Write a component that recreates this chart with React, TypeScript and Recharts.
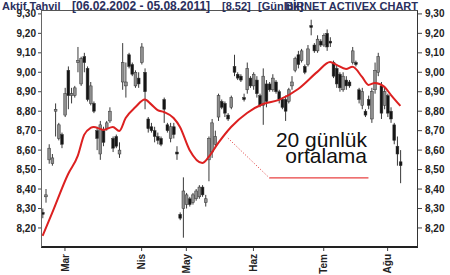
import React from 'react';
import { ComposedChart, Bar, Line, XAxis, YAxis, ReferenceLine } from 'recharts';

// OHLC per trading day
const highs = [8.30,8.40,8.63,8.58,8.84,8.74,8.69,8.92,9.03,8.92,8.93,9.13,9.08,9.10,9.03,8.95,8.85,8.72,8.75,8.72,8.75,8.82,8.67,8.68,8.64,9.15,9.05,9.10,9.05,9.01,9.00,9.15,9.02,8.77,8.74,8.72,8.69,8.67,8.87,8.74,8.74,8.74,8.62,8.28,8.46,8.38,8.36,8.38,8.40,8.42,8.42,8.37,8.67,8.76,8.70,8.89,8.86,8.85,8.79,8.88,9.09,9.00,8.99,8.89,9.05,8.98,9.00,8.98,8.89,9.02,8.96,8.95,8.99,8.96,8.91,8.87,8.88,8.92,8.98,9.08,9.11,9.12,9.04,9.14,9.27,9.15,9.19,9.17,9.20,9.22,9.18,9.06,9.04,9.00,9.00,8.98,8.96,9.13,9.06,8.92,8.92,8.81,8.88,8.92,9.05,9.10,8.95,8.92,8.89,8.82,8.74,8.67,8.60];
const lows = [8.25,8.33,8.53,8.52,8.67,8.65,8.61,8.77,8.81,8.84,8.87,9.00,8.93,9.00,8.85,8.83,8.79,8.60,8.55,8.62,8.70,8.74,8.59,8.61,8.56,8.91,8.87,9.02,8.98,8.92,8.92,9.04,8.81,8.69,8.69,8.64,8.63,8.62,8.74,8.69,8.64,8.66,8.55,8.24,8.15,8.30,8.31,8.32,8.34,8.35,8.36,8.31,8.44,8.56,8.61,8.75,8.81,8.77,8.75,8.81,8.98,8.96,8.95,8.85,8.89,8.92,8.91,8.87,8.82,8.73,8.82,8.90,8.90,8.89,8.84,8.81,8.75,8.84,8.91,9.00,9.02,9.05,8.99,9.03,9.19,9.10,9.10,9.13,9.13,9.11,9.13,8.97,8.92,8.90,8.90,8.91,8.92,9.04,9.03,8.84,8.81,8.77,8.81,8.74,8.89,8.98,8.76,8.81,8.77,8.74,8.63,8.52,8.43];
const opens = [8.28,8.36,8.55,8.53,8.80,8.66,8.68,8.78,9.01,8.88,8.88,9.05,8.94,9.08,9.02,8.84,8.84,8.70,8.58,8.70,8.71,8.75,8.66,8.67,8.58,8.95,8.93,9.09,9.04,8.93,8.97,9.05,9.00,8.76,8.72,8.70,8.67,8.66,8.86,8.73,8.66,8.72,8.59,8.27,8.30,8.32,8.35,8.33,8.35,8.36,8.41,8.33,8.55,8.59,8.63,8.77,8.85,8.84,8.78,8.82,9.03,8.99,8.98,8.87,8.91,8.97,8.93,8.96,8.88,8.83,8.94,8.94,8.91,8.95,8.90,8.86,8.86,8.85,8.93,9.01,9.09,9.06,9.03,9.04,9.24,9.14,9.11,9.16,9.14,9.20,9.16,9.05,9.02,8.99,8.91,8.96,8.95,9.05,9.05,8.91,8.83,8.80,8.86,8.76,8.91,9.00,8.93,8.83,8.88,8.80,8.73,8.62,8.54];
const closes = [8.27,8.37,8.61,8.56,8.81,8.73,8.63,8.89,8.88,8.89,8.92,9.06,9.07,9.05,8.86,8.93,8.80,8.66,8.73,8.64,8.74,8.80,8.61,8.62,8.60,9.05,8.95,9.03,8.99,9.00,8.94,9.13,8.90,8.71,8.70,8.67,8.65,8.63,8.81,8.70,8.72,8.68,8.58,8.25,8.39,8.37,8.32,8.37,8.39,8.41,8.37,8.35,8.66,8.74,8.67,8.88,8.82,8.79,8.76,8.87,9.00,8.97,8.96,8.86,9.02,8.93,8.99,8.89,8.83,8.98,8.85,8.91,8.97,8.90,8.86,8.82,8.80,8.91,8.95,9.07,9.04,9.11,9.00,9.12,9.23,9.11,9.17,9.14,9.19,9.13,9.15,8.98,8.94,8.92,8.98,8.93,8.93,9.11,9.04,8.86,8.90,8.78,8.83,8.90,9.01,9.08,8.79,8.90,8.79,8.76,8.65,8.58,8.52];

// 20-day moving average, read at selected days
const maDays = [0,3,8,11,13,15,16,18,19,22,24,26,29,32,34,36,38,41,43,46,50,52,55,59,64,69,74,80,86,90,92,95,97,100,102,104,107,109,112];
const maValues = [8.159,8.277,8.477,8.570,8.678,8.714,8.719,8.709,8.704,8.719,8.698,8.765,8.820,8.860,8.835,8.806,8.796,8.765,8.719,8.601,8.534,8.565,8.637,8.719,8.791,8.837,8.858,8.914,9.002,9.053,9.038,9.017,9.028,8.976,8.935,8.945,8.925,8.884,8.827];

const monthTicks = [7, 31, 45, 66, 88, 108];
const monthLabels = ['Mar', 'Nis', 'May', 'Haz', 'Tem', 'Ağu'];
const priceTicks = [8.2, 8.3, 8.4, 8.5, 8.6, 8.7, 8.8, 8.9, 9.0, 9.1, 9.2, 9.3];
const priceDomain = [8.097, 9.32];

// title pieces
const titleParts = ['Aktif Tahvil', '[06.02.2002 - 05.08.2011]', '[8.52]', '[Günlük]'];
const titleLeft = [2, 72, 222, 258];
const titleSize = [11, 12, 11, 11];

// annotation leader (day, price)
const leaderDiag = [{ x: 58, y: 8.662 }, { x: 71, y: 8.457 }];
const leaderFlat = [{ x: 71, y: 8.457 }, { x: 102, y: 8.457 }];

const table = highs.map((h, i) => {
  const k = maDays.indexOf(i);
  return {
    i,
    h,
    l: lows[i],
    o: opens[i],
    c: closes[i],
    range: [lows[i], h],
    ma: k >= 0 ? maValues[k] : null,
  };
});

const Candle = (props: any) => {
  const { x, y, width, height, payload } = props;
  if (!payload || x == null) return null;
  const top = Math.min(y, y + height);
  const hh = Math.abs(height);
  const { h, l, o, c } = payload;
  const span = h - l || 1;
  const py = (v: number) => top + ((h - v) / span) * hh;
  const cx = x + width / 2;
  const bTop = Math.min(py(o), py(c));
  const bBot = Math.max(py(o), py(c));
  const bh = Math.max(bBot - bTop, 1.5);
  const up = c >= o;
  return (
    <g>
      <line x1={cx} x2={cx} y1={top} y2={top + hh} stroke="#3a3a3a" strokeWidth={1} />
      <rect
        x={cx - 1.4}
        y={bTop}
        width={2.8}
        height={bh}
        fill={up ? '#8e8e8e' : '#151515'}
        stroke="#333"
        strokeWidth={0.5}
      />
    </g>
  );
};

const fmt = (v: number) => v.toFixed(2).replace('.', ',');

const MonthTick = (props: any) => {
  const { x, y, payload } = props;
  const idx = monthTicks.indexOf(payload.value);
  return (
    <g transform={`translate(${x},${y})`}>
      <text
        transform="rotate(-90)"
        x={-1}
        y={0}
        dy="0.36em"
        textAnchor="end"
        fontFamily="Liberation Sans, Arial, sans-serif"
        fontWeight="bold"
        fontSize={10}
        fill="#222"
      >
        {idx >= 0 ? monthLabels[idx] : ''}
      </text>
    </g>
  );
};

const tickStyle = {
  fontFamily: 'Liberation Sans, Arial, sans-serif',
  fontWeight: 'bold',
  fontSize: 10,
  fill: '#222',
};

const titleStyle: React.CSSProperties = {
  position: 'absolute',
  top: 0,
  fontFamily: 'Liberation Sans, Arial, sans-serif',
  fontWeight: 'bold',
  fontSize: 11,
  lineHeight: '11px',
  color: '#2a2f5e',
  whiteSpace: 'pre',
};

export default function App() {
  return (
    <div style={{ position: 'absolute', left: 0, top: 0, width: 450, height: 275, background: '#fff' }}>
      <ComposedChart
        width={450}
        height={275}
        data={table}
        margin={{ top: 10, right: 0, bottom: 0, left: 0 }}
      >
        <XAxis
          dataKey="i"
          type="category"
          ticks={monthTicks}
          interval={0}
          height={27}
          padding={{ left: 0, right: 16 }}
          axisLine={false}
          tickLine={{ stroke: '#444' }}
          tickSize={3}
          tick={<MonthTick />}
        />
        <YAxis
          yAxisId="left"
          orientation="left"
          width={41}
          domain={priceDomain}
          ticks={priceTicks}
          allowDataOverflow
          axisLine={false}
          tickLine={{ stroke: '#444' }}
          tickSize={3}
          tickMargin={2}
          tickFormatter={fmt}
          tick={tickStyle}
        />
        <YAxis
          yAxisId="right"
          orientation="right"
          width={32}
          domain={priceDomain}
          ticks={priceTicks}
          allowDataOverflow
          axisLine={false}
          tickLine={{ stroke: '#444' }}
          tickSize={4}
          tickMargin={3}
          tickFormatter={fmt}
          tick={tickStyle}
        />
        <Bar yAxisId="left" dataKey="range" shape={<Candle />} isAnimationActive={false} />
        <Line
          yAxisId="right"
          dataKey="ma"
          type="monotone"
          stroke="#dc2020"
          strokeWidth={2}
          dot={false}
          connectNulls
          isAnimationActive={false}
        />
        <ReferenceLine
          yAxisId="left"
          segment={leaderDiag}
          stroke="#e03030"
          strokeWidth={1}
          strokeDasharray="1 2"
          ifOverflow="visible"
        />
        <ReferenceLine
          yAxisId="left"
          segment={leaderFlat}
          stroke="#e84040"
          strokeWidth={1.3}
          ifOverflow="visible"
        />
      </ComposedChart>
      <div
        style={{
          position: 'absolute',
          left: 41,
          top: 10,
          width: 377,
          height: 238,
          boxSizing: 'border-box',
          borderTop: '1px solid #555',
          borderLeft: '1px solid #666',
          borderRight: '1.5px solid #333',
          borderBottom: '2px solid #222',
          pointerEvents: 'none',
        }}
      />
      {titleParts.map((t, k) => (
        <div
          key={k}
          style={{
            ...titleStyle,
            left: titleLeft[k],
            fontSize: titleSize[k],
            lineHeight: `${titleSize[k] + 1}px`,
          }}
        >
          {t}
        </div>
      ))}
      <div style={{ ...titleStyle, right: 450 - 418, lineHeight: '12px' }}>{'BİRNET ACTIVEX CHART'}</div>
      <div
        style={{
          position: 'absolute',
          left: 247,
          top: 132,
          width: 120,
          textAlign: 'right',
          fontFamily: 'Liberation Sans, Arial, sans-serif',
          fontSize: 21,
          lineHeight: '16px',
          color: '#111',
          whiteSpace: 'pre',
        }}
      >
        {'20 günlük\nortalama'}
      </div>
    </div>
  );
}
